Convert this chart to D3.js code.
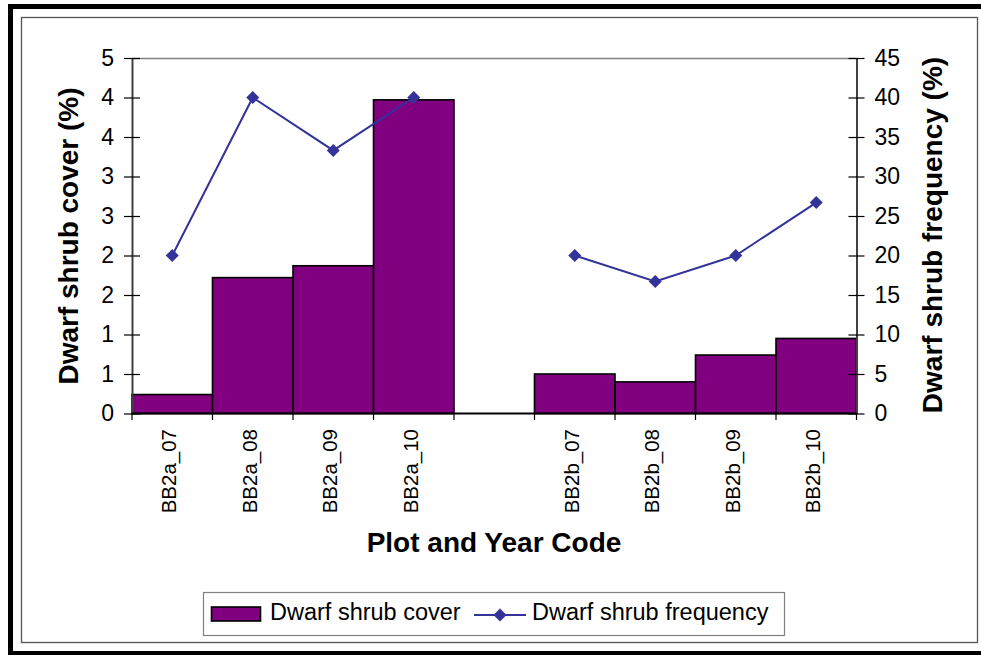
<!DOCTYPE html>
<html>
<head>
<meta charset="utf-8">
<script src="https://cdn.jsdelivr.net/npm/d3@7"></script>
<style>
  html, body { margin: 0; padding: 0; background: #fff; }
  svg { display: block; font-family: "Liberation Sans", Arial, sans-serif; }
</style>
</head>
<body>
<svg id="chart" width="981" height="655"></svg>
<script>
// ---- data ----
const categories = ["BB2a_07", "BB2a_08", "BB2a_09", "BB2a_10", "", "BB2b_07", "BB2b_08", "BB2b_09", "BB2b_10"];
const coverValues = [0.24, 1.72, 1.87, 3.97, null, 0.50, 0.40, 0.74, 0.95];
const frequencyValues = [20, 40, 33.3, 40, null, 20, 16.7, 20, 26.7];
const coverTicks = [0, 0.5, 1, 1.5, 2, 2.5, 3, 3.5, 4, 4.5];
const coverTickLabels = ["0", "1", "1", "2", "2", "3", "3", "4", "4", "5"];
const freqTicks = [0, 5, 10, 15, 20, 25, 30, 35, 40, 45];
const seriesNames = ["Dwarf shrub cover", "Dwarf shrub frequency"];
const yLeftTitle = "Dwarf shrub cover (%)";
const yRightTitle = "Dwarf shrub frequency (%)";
const xTitle = "Plot and Year Code";

// ---- layout ----
const svg = d3.select("#chart");
const plot = { left: 132, right: 856.5, top: 58, bottom: 413.5 };
const barColor = "#800080";
const lineColor = "#333399";

// frames
svg.append("rect").attr("x", 10.5).attr("y", 6.5).attr("width", 1000).attr("height", 647)
  .attr("fill", "none").attr("stroke", "#000").attr("stroke-width", 5);
svg.append("rect").attr("x", 21.5).attr("y", 17.5).attr("width", 956).attr("height", 625)
  .attr("fill", "none").attr("stroke", "#555").attr("stroke-width", 1.3);

const x = d3.scaleBand().domain(categories).range([plot.left, plot.right]).padding(0);
const yL = d3.scaleLinear().domain([0, 4.5]).range([plot.bottom, plot.top]);
const yR = d3.scaleLinear().domain([0, 45]).range([plot.bottom, plot.top]);

// plot area top border
svg.append("line").attr("x1", plot.left).attr("x2", plot.right)
  .attr("y1", plot.top + 0.5).attr("y2", plot.top + 0.5)
  .attr("stroke", "#808080").attr("stroke-width", 1.5);

// bars
svg.append("g").selectAll("rect")
  .data(categories.map((c, i) => ({ c, v: coverValues[i] })).filter(d => d.v != null))
  .join("rect")
  .attr("x", d => x(d.c))
  .attr("width", x.bandwidth())
  .attr("y", d => yL(d.v))
  .attr("height", d => yL(0) - yL(d.v))
  .attr("fill", barColor)
  .attr("stroke", "#000")
  .attr("stroke-width", 1.6);

// left axis
const gL = svg.append("g").attr("transform", `translate(${plot.left},0)`)
  .call(d3.axisLeft(yL).tickValues(coverTicks).tickFormat((d, i) => coverTickLabels[i])
    .tickSizeInner(8).tickSizeOuter(0).tickPadding(11));
gL.select(".domain").attr("stroke", "#404040").attr("stroke-width", 2);
gL.selectAll(".tick line").attr("x2", 8).attr("x1", -8).attr("stroke", "#000").attr("stroke-width", 1.2);
gL.selectAll(".tick text").attr("font-size", 23).attr("fill", "#000").attr("x", -18);

// right axis
const gR = svg.append("g").attr("transform", `translate(${plot.right},0)`)
  .call(d3.axisRight(yR).tickValues(freqTicks).tickSizeInner(8).tickSizeOuter(0).tickPadding(11));
gR.select(".domain").attr("stroke", "#404040").attr("stroke-width", 2);
gR.selectAll(".tick line").attr("x1", -8).attr("x2", 8).attr("stroke", "#000").attr("stroke-width", 1.2);
gR.selectAll(".tick text").attr("font-size", 23).attr("fill", "#000").attr("x", 18);

// bottom axis
const gB = svg.append("g").attr("transform", `translate(0,${plot.bottom})`);
gB.append("line").attr("x1", plot.left).attr("x2", plot.right).attr("y1", 0).attr("y2", 0)
  .attr("stroke", "#000").attr("stroke-width", 2);
const boundaries = categories.map(c => x(c)).concat([x(categories[categories.length - 1]) + x.bandwidth()]);
gB.selectAll("line.tk").data(boundaries).join("line").attr("class", "tk")
  .attr("x1", d => d).attr("x2", d => d).attr("y1", 0).attr("y2", 6.5)
  .attr("stroke", "#000").attr("stroke-width", 1.2);
gB.selectAll("text.cat").data(categories.filter(c => c !== "")).join("text").attr("class", "cat")
  .attr("transform", d => `translate(${x(d) + x.bandwidth() / 2},${429 - plot.bottom}) rotate(-90)`)
  .attr("text-anchor", "end").attr("dy", "0.2em")
  .attr("font-size", 20.5).attr("fill", "#000")
  .text(d => d);

// line series
const linePts = categories.map((c, i) => ({ c, v: frequencyValues[i] })).filter(d => d.v != null);
const segA = linePts.filter(d => d.c.startsWith("BB2a"));
const segB = linePts.filter(d => d.c.startsWith("BB2b"));
const lineGen = d3.line().x(d => x(d.c) + x.bandwidth() / 2).y(d => yR(d.v));
[segA, segB].forEach(seg => {
  svg.append("path").datum(seg).attr("d", lineGen)
    .attr("fill", "none").attr("stroke", lineColor).attr("stroke-width", 2);
});
const diamond = "M0,-6.5L6.5,0L0,6.5L-6.5,0Z";
svg.append("g").selectAll("path").data(linePts).join("path")
  .attr("d", diamond)
  .attr("transform", d => `translate(${x(d.c) + x.bandwidth() / 2},${yR(d.v)})`)
  .attr("fill", lineColor);

// axis titles
svg.append("text").attr("transform", `translate(68,236) rotate(-90)`)
  .attr("text-anchor", "middle").attr("dy", "0.35em")
  .attr("font-size", 28).attr("font-weight", "bold").attr("fill", "#000").text(yLeftTitle);
svg.append("text").attr("transform", `translate(932,235) rotate(-90)`)
  .attr("text-anchor", "middle").attr("dy", "0.35em")
  .attr("font-size", 28).attr("font-weight", "bold").attr("fill", "#000").text(yRightTitle);
svg.append("text").attr("x", 494).attr("y", 552)
  .attr("text-anchor", "middle")
  .attr("font-size", 28).attr("font-weight", "bold").attr("fill", "#000").text(xTitle);

// legend
const lg = svg.append("g");
lg.append("rect").attr("x", 203.5).attr("y", 592.5).attr("width", 581).attr("height", 43)
  .attr("fill", "#fff").attr("stroke", "#808080").attr("stroke-width", 1.2);
lg.append("rect").attr("x", 211.5).attr("y", 607).attr("width", 49).attr("height", 14)
  .attr("fill", barColor).attr("stroke", "#000").attr("stroke-width", 1.6);
lg.append("text").attr("x", 270).attr("y", 620).attr("font-size", 23.5).attr("fill", "#000").text(seriesNames[0]);
lg.append("line").attr("x1", 474).attr("x2", 526).attr("y1", 615).attr("y2", 615)
  .attr("stroke", lineColor).attr("stroke-width", 2);
lg.append("path").attr("d", diamond).attr("transform", "translate(500,615)").attr("fill", lineColor);
lg.append("text").attr("x", 532).attr("y", 620).attr("font-size", 23.5).attr("fill", "#000").text(seriesNames[1]);
</script>
</body>
</html>
